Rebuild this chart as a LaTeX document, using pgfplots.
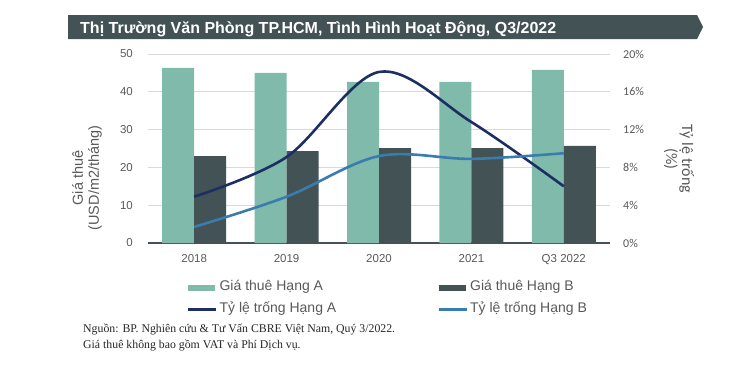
\documentclass[border=0pt]{standalone}
\usepackage{fontspec}
\setmainfont{Liberation Sans}
\newfontfamily\serif{Liberation Serif}
\newfontfamily\cali{Carlito}
\usepackage{pgfplots}
\pgfplotsset{compat=1.18}
\definecolor{barA}{HTML}{7FBAAB}
\definecolor{barB}{HTML}{435254}
\definecolor{lineA}{HTML}{1C2F63}
\definecolor{lineB}{HTML}{3A7CB0}
\definecolor{txt}{HTML}{595959}
\definecolor{gridc}{HTML}{D9D9D9}
\pgfplotsset{
 linelegend/.style={legend image code/.code={\draw[##1] (0bp,0bp) -- (28bp,0bp);}},
 barAlegend/.style={legend image code/.code={\fill[barA] (0bp,-2.5bp) rectangle (26bp,2.5bp); \path (28bp,0bp);}},
 barBlegend/.style={legend image code/.code={\fill[barB] (0bp,-2.5bp) rectangle (26bp,2.5bp); \path (28bp,0bp);}},
}

\begin{document}
\begin{tikzpicture}
\path[use as bounding box] (0,0) rectangle (741bp,-367bp);
\fill[barB] (68bp,-15bp) -- (697bp,-15bp) -- (703bp,-27bp) -- (697bp,-39bp) -- (68bp,-39bp) -- cycle;
\node[anchor=base west, inner sep=0pt, text=white, font=\fontsize{16bp}{18bp}\selectfont\bfseries] at (80bp,-33bp) {Thị Trường Văn Phòng TP.HCM, Tình Hình Hoạt Động, Q3/2022};

\begin{axis}[
 at={(148bp,-243bp)}, anchor=south west, scale only axis, width=462bp, height=189bp,
 xmin=-0.5, xmax=4.5, ymin=0, ymax=50,
 xtick={0,...,4}, xticklabels={2018,2019,2020,2021,Q3 2022},
 ytick={0,10,...,50},
 axis x line*=bottom, axis y line*=left,
 y axis line style={draw=none},
 x axis line style={draw=barB, line width=1.2bp, -},
 major tick length=0pt,
 ymajorgrids, grid style={gridc, line width=0.75bp},
 /pgf/number format/assume math mode=true,
 tick label style={font=\fontsize{11.5bp}{13bp}\selectfont, text=txt, inner sep=0pt},
 x tick label style={anchor=base, yshift=-19bp},
 y tick label style={anchor=east, xshift=-15bp},
 ybar, bar width=32bp,
 clip=false,
]
\addplot[fill=barA, draw=none, bar shift=-16bp] coordinates {(0,46.3) (1,45.0) (2,42.6) (3,42.6) (4,45.8)};
\addplot[fill=barB, draw=none, bar shift=16bp] coordinates {(0,23.0) (1,24.3) (2,25.1) (3,25.1) (4,25.7)};
\end{axis}

\begin{axis}[
 at={(148bp,-243bp)}, anchor=south west, scale only axis, width=462bp, height=189bp,
 xmin=-0.5, xmax=4.5, ymin=0, ymax=20,
 axis x line=none, axis y line*=right,
 y axis line style={draw=none},
 ytick={0,4,...,20}, yticklabel={\pgfmathprintnumber{\tick}\%},
 major tick length=0pt,
 /pgf/number format/assume math mode=true,
 y tick label style={font=\cali\fontsize{12bp}{14bp}\selectfont, text=txt, anchor=west, xshift=13bp, inner sep=0pt},
 legend columns=2, legend cell align=left,
 legend style={at={(0.0844,-0.201)}, anchor=north west, draw=none, fill=none,
   inner sep=0pt, outer sep=0pt, column sep=0pt, row sep=9bp,
   font=\fontsize{14bp}{16bp}\selectfont, text=txt,
   nodes={inner sep=0pt, text height=10bp, text depth=3bp}},
 clip=false,
]
\addlegendimage{barAlegend}
\addlegendentry{\makebox[220bp][l]{\hspace{2bp}Giá thuê Hạng A}}
\addlegendimage{barBlegend}
\addlegendentry{\makebox[140bp][l]{\hspace{2bp}Giá thuê Hạng B}}
\addplot[lineA, line width=2.6bp, smooth, tension=0.55, linelegend]
 coordinates {(0,4.9) (1,9.1) (2,18.1) (3,12.8) (4,6.0)};
\addlegendentry{\makebox[220bp][l]{\hspace{2bp}Tỷ lệ trống Hạng A}}
\addplot[lineB, line width=2.6bp, smooth, tension=0.55, linelegend]
 coordinates {(0,1.7) (1,4.9) (2,9.2) (3,8.9) (4,9.5)};
\addlegendentry{\makebox[140bp][l]{\hspace{2bp}Tỷ lệ trống Hạng B}}
\end{axis}

\node[rotate=90, align=center, text=txt, font=\fontsize{14.5bp}{16bp}\selectfont] at (87bp,-178bp) {Giá thuê\\(USD/m2/tháng)};
\node[rotate=-90, align=center, text=txt, font=\cali\fontsize{16bp}{16bp}\selectfont] at (679bp,-159bp) {Tỷ lệ trống\\(\%)};

\node[anchor=base west, inner sep=0pt, font=\serif\fontsize{11.8bp}{14bp}\selectfont, text=black!85] at (83bp,-332bp) {Nguồn: BP. Nghiên cứu \& Tư Vấn CBRE Việt Nam, Quý 3/2022.};
\node[anchor=base west, inner sep=0pt, font=\serif\fontsize{11.8bp}{14bp}\selectfont, text=black!85] at (83bp,-348bp) {Giá thuê không bao gồm VAT và Phí Dịch vụ.};
\end{tikzpicture}
\end{document}
